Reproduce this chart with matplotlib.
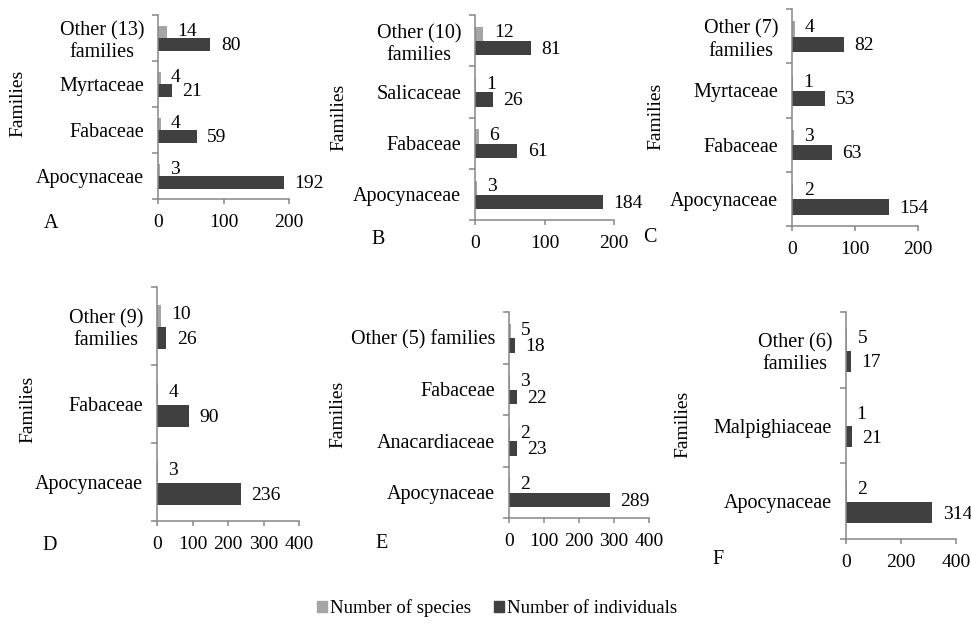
import matplotlib
matplotlib.use("Agg")
import matplotlib.pyplot as plt
from matplotlib.patches import Patch

plt.rcParams["font.family"] = ["Liberation Serif", "DejaVu Serif"]

# family counts per site (bottom row first)
cats_a = ["Apocynaceae", "Fabaceae", "Myrtaceae", "Other (13)\nfamilies"]
species_a = [3, 4, 4, 14]
indiv_a = [192, 59, 21, 80]

cats_b = ["Apocynaceae", "Fabaceae", "Salicaceae", "Other (10)\nfamilies"]
species_b = [3, 6, 1, 12]
indiv_b = [184, 61, 26, 81]

cats_c = ["Apocynaceae", "Fabaceae", "Myrtaceae", "Other (7)\nfamilies"]
species_c = [2, 3, 1, 4]
indiv_c = [154, 63, 53, 82]

cats_d = ["Apocynaceae", "Fabaceae", "Other (9)\nfamilies"]
species_d = [3, 4, 10]
indiv_d = [236, 90, 26]

cats_e = ["Apocynaceae", "Anacardiaceae", "Fabaceae", "Other (5) families"]
species_e = [2, 2, 3, 5]
indiv_e = [289, 23, 22, 18]

cats_f = ["Apocynaceae", "Malpighiaceae", "Other (6)\nfamilies"]
species_f = [2, 1, 5]
indiv_f = [314, 21, 17]

ticks_200 = [0, 100, 200]
ticks_400 = [0, 100, 200, 300, 400]
ticks_400b = [0, 200, 400]

LIGHT = "#a5a5a5"
DARK = "#404040"
AXIS = "#868686"

W, H = 971, 624
fig = plt.figure(figsize=(W / 100, H / 100), dpi=100)


def px_axes(left, top, right, bottom):
    return fig.add_axes([left / W, 1 - bottom / H, (right - left) / W, (bottom - top) / H])


def panel(ax, cats, species, indiv, xmax, xticks):
    n = len(cats)
    pos = list(range(n))
    h = 0.28
    ax.barh([p + 0.13 for p in pos], species, height=h, color=LIGHT)
    ax.barh([p - 0.15 for p in pos], indiv, height=h, color=DARK)
    for p, s, v in zip(pos, species, indiv):
        ax.annotate(str(s), (s, p + 0.15), xytext=(7.5, 0), textcoords="offset points",
                    ha="left", va="center", fontsize=14)
        ax.annotate(str(v), (v, p - 0.17), xytext=(7.5, 0), textcoords="offset points",
                    ha="left", va="center", fontsize=14)
    ax.set_xlim(0, xmax)
    ax.set_ylim(-0.5, n - 0.5)
    ax.set_xticks(xticks)
    ax.set_yticks(pos)
    ax.set_yticklabels(cats, fontsize=14.5, multialignment="center")
    ax.set_yticks([p - 0.5 for p in range(n + 1)], minor=True)
    ax.tick_params(axis="y", which="major", length=0, pad=10)
    ax.tick_params(axis="y", which="minor", length=4.5, width=1.1, color=AXIS, direction="out")
    ax.tick_params(axis="x", length=3.5, width=1.1, color=AXIS, pad=7.5, labelsize=14)
    for side in ("top", "right"):
        ax.spines[side].set_visible(False)
    for side in ("left", "bottom"):
        ax.spines[side].set_color(AXIS)
        ax.spines[side].set_linewidth(1.1)


panel(px_axes(158, 15, 289, 199), cats_a, species_a, indiv_a, 200, ticks_200)
panel(px_axes(475, 15, 614, 220), cats_b, species_b, indiv_b, 200, ticks_200)
panel(px_axes(792, 9, 918, 226), cats_c, species_c, indiv_c, 200, ticks_200)
panel(px_axes(157, 287, 299, 521), cats_d, species_d, indiv_d, 400, ticks_400)
panel(px_axes(509, 312, 649, 518), cats_e, species_e, indiv_e, 400, ticks_400)
panel(px_axes(846, 312, 956, 539), cats_f, species_f, indiv_f, 400, ticks_400b)

# panel letters and axis titles
for letter, x, y in [("A", 51, 223), ("B", 378, 240), ("C", 650, 237),
                     ("D", 50, 545), ("E", 382, 543), ("F", 718, 560)]:
    fig.text(x / W, 1 - y / H, letter, fontsize=14.5, ha="center", va="center")

for x, y in [(18, 103), (339, 117), (656, 116), (28, 409), (338, 414), (683, 424)]:
    fig.text(x / W, 1 - y / H, "Families", fontsize=14, rotation=90,
             ha="center", va="center")

handles = [Patch(color=LIGHT, label="Number of species"),
           Patch(color=DARK, label="Number of individuals")]
fig.legend(handles=handles, loc="center", bbox_to_anchor=(497 / W, 1 - 608 / H),
           ncol=2, frameon=False, fontsize=13.5, handlelength=0.55, handleheight=0.55,
           handletextpad=0.15, columnspacing=1.2)

fig.savefig("out.png", dpi=100)
